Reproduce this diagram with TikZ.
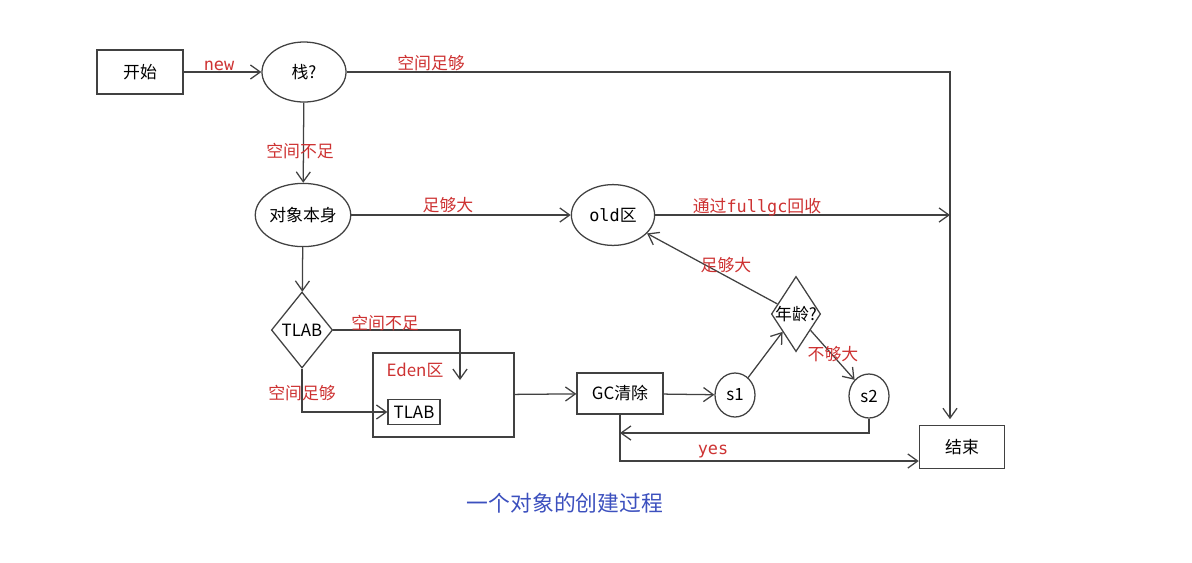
\documentclass[tikz,border=0pt]{standalone}
\usepackage{fontspec}
\setmainfont{Noto Sans CJK SC}
\setmonofont{DejaVu Sans Mono}
\usetikzlibrary{arrows.meta, shapes.geometric, calc}
\definecolor{labelred}{RGB}{205,50,50}
\definecolor{titleblue}{RGB}{60,80,190}
\definecolor{inkgray}{RGB}{65,65,65}

\begin{document}
\begin{tikzpicture}[
    x=0.025cm, y=-0.025cm,
    >={Straight Barb[length=7pt,width=10pt]},
    every node/.style={font=\fontsize{12}{14}\selectfont},
    box/.style={rectangle, draw=inkgray, line width=0.9pt, inner sep=0pt, align=center},
    oval/.style={ellipse, draw=inkgray, line width=0.9pt, inner sep=0pt},
    choice/.style={diamond, draw=inkgray, line width=0.9pt, inner sep=0pt},
    flow/.style={->, draw=inkgray, line width=0.9pt},
    note/.style={text=labelred, inner sep=1pt},
    codenote/.style={note, font=\fontsize{12}{14}\selectfont\ttfamily}
  ]
    \useasboundingbox (0,0) rectangle (1192,562);

    % nodes
    \node[box, minimum width=2.15cm, minimum height=1.1cm] (start) at (140,72) {开始};
    \node[oval, minimum width=2.1cm, minimum height=1.5cm] (stack) at (304,72) {栈?};
    \node[oval, minimum width=2.25cm, minimum height=1.58cm] (obj) at (303,215) {对象本身};
    \node[oval, minimum width=2.08cm, minimum height=1.52cm] (old) at (613,215) {\texttt{old}区};
    \node[choice, minimum width=1.53cm, minimum height=1.9cm] (tlab) at (302,330) {TLAB};
    \node[box, minimum width=3.53cm, minimum height=2.1cm] (eden) at (443.5,395) {};
    \node[box, minimum width=1.3cm, minimum height=0.62cm] (tlabbox) at (414,412) {TLAB};
    \node[box, minimum width=2.15cm, minimum height=1.03cm] (gc) at (620,393.5) {GC清除};
    \node[oval, minimum width=1.0cm, minimum height=1.1cm] (s1) at (735,395) {s1};
    \node[choice, shape aspect=0.65, inner sep=-2pt, minimum width=1.23cm, minimum height=1.88cm] (age) at (796,314) {年龄?};
    \node[oval, minimum width=1.0cm, minimum height=1.1cm] (s2) at (869,396) {s2};
    \node[box, minimum width=2.13cm, minimum height=1.08cm] (finish) at (962,447) {结束};
    \node[text=titleblue, font=\fontsize{15.5}{18}\selectfont] (title) at (565,503) {一个对象的创建过程};

    % turning points
    \coordinate (corner) at (950,72);
    \coordinate (edendrop) at (460,380);
    \coordinate (gcjoin) at (620,433);
    \coordinate (yesturn) at (620,461);

    % connectors
    \draw[flow] (start) -- (stack);
    \draw[flow, shorten >=4pt] (stack) -- (corner) -- (corner |- finish.north);
    \draw[flow] (stack) -- (obj);
    \draw[flow] (obj) -- (old);
    \draw[flow] (old) -- (old -| corner);
    \draw[flow] (obj) -- (tlab);
    \draw[flow] (tlab.east) -| (edendrop);
    \draw[flow] (tlab.south) |- (tlabbox.west);
    \draw[flow] (eden) -- (gc);
    \draw[flow] (gc) -- (s1);
    \draw[flow] (s1) -- (age);
    \draw[flow] (age) -- (old);
    \draw[flow] (age) -- (s2);
    \draw[flow] (s2.south) |- (gcjoin);
    \draw[flow] (gc.south) -- (yesturn) -- (yesturn -| finish.west);

    % labels
    \node[codenote] (lnew) at (219,66) {new};
    \node[note] (lroom) at (431,63) {空间足够};
    \node[note] (lshort) at (300,151) {空间不足};
    \node[note] (lbig) at (448,205) {足够大};
    \node[note] (lfull) at (757,207) {通过\texttt{fullgc}回收};
    \node[note] (ltshort) at (385,323) {空间不足};
    \node[note] (ltroom) at (302,393) {空间足够};
    \node[note] (leden) at (415,370) {Eden区};
    \node[note] (lold) at (726,265) {足够大};
    \node[note] (lyoung) at (833,354) {不够大};
    \node[codenote] (lyes) at (713,452) {yes};
  \end{tikzpicture}
\end{document}
